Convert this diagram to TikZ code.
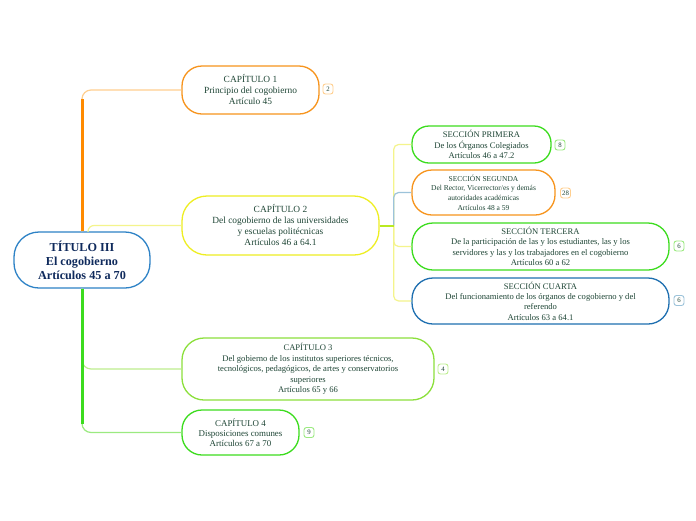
\documentclass[tikz,border=0pt]{standalone}
\usepackage{fontspec}
\setmainfont{Liberation Serif}
\usetikzlibrary{calc}
\definecolor{corange}{HTML}{F7941D}
\definecolor{ctrunk}{HTML}{FF8A00}
\definecolor{cpaleorange}{HTML}{FFCF8F}
\definecolor{cyellow}{HTML}{EEEE22}
\definecolor{cpaleyellow}{HTML}{F4F48C}
\definecolor{cgreen}{HTML}{3CDC1E}
\definecolor{cpalegreen}{HTML}{9BEA80}
\definecolor{climegreen}{HTML}{8CE03C}
\definecolor{cpalelime}{HTML}{BDEE8E}
\definecolor{cblue}{HTML}{2D82C6}
\definecolor{cdblue}{HTML}{1E6FB0}
\definecolor{cgreyblue}{HTML}{9CC3DA}
\definecolor{ctxt}{HTML}{1F4636}
\definecolor{cnavy}{HTML}{0F2A5C}
\begin{document}
\begin{tikzpicture}[x=1pt,y=-1pt,
  topic/.style={draw, line width=1.3pt, fill=white, align=center, inner sep=0pt,
    text=ctxt, rounded corners=20pt},
  badge/.style={draw, line width=0.9pt, rounded corners=2.5pt, minimum width=10pt,
    minimum height=10pt, inner sep=1.2pt, fill=white, text=ctxt,
    font=\fontsize{6.8}{7}\selectfont},
  branch/.style={line width=1.2pt, rounded corners=9pt},
  chfont/.style={font=\fontsize{9.4}{11}\selectfont},
  secfont/.style={font=\fontsize{8.6}{10.4}\selectfont}]
\useasboundingbox (0,0) rectangle (696,520);
\fill[white] (0,0) rectangle (696,520);

% nodes
\node[topic, draw=cblue, rounded corners=25pt, minimum width=136pt, minimum height=56pt,
  text=cnavy, font=\bfseries\fontsize{12.2}{14}\selectfont] (r) at (82,260)
  {TÍTULO III\\El cogobierno\\Artículos 45 a 70};
\node[topic, draw=corange, chfont, minimum width=137pt, minimum height=48pt] (c1) at (250.5,90)
  {CAPÍTULO 1\\Principio del cogobierno\\Artículo 45};
\node[topic, draw=cyellow, chfont, rounded corners=25pt, minimum width=197pt, minimum height=59pt] (c2) at (280.5,225.5)
  {CAPÍTULO 2\\Del cogobierno de las universidades\\y escuelas politécnicas\\Artículos 46 a 64.1};
\node[topic, draw=cgreen, secfont, rounded corners=17pt, minimum width=139pt, minimum height=37pt] (s1) at (481.5,144.5)
  {SECCIÓN PRIMERA\\De los Órganos Colegiados\\Artículos 46 a 47.2};
\node[topic, draw=corange, font=\fontsize{7.5}{9.6}\selectfont, rounded corners=20pt, minimum width=143pt, minimum height=45pt] (s2) at (483.5,192.5)
  {SECCIÓN SEGUNDA\\Del Rector, Vicerrector/es y demás\\autoridades académicas\\Artículos 48 a 59};
\node[topic, draw=cgreen, secfont, rounded corners=21pt, minimum width=257pt, minimum height=47pt] (s3) at (540.5,246.5)
  {SECCIÓN TERCERA\\De la participación de las y los estudiantes, las y los\\servidores y las y los trabajadores en el cogobierno\\Artículos 60 a 62};
\node[topic, draw=cdblue, secfont, rounded corners=21pt, minimum width=257pt, minimum height=46pt] (s4) at (540.5,301)
  {SECCIÓN CUARTA\\Del funcionamiento de los órganos de cogobierno y del\\referendo\\Artículos 63 a 64.1};
\node[topic, draw=climegreen, secfont, rounded corners=22pt, minimum width=252pt, minimum height=62pt] (c3) at (308,369)
  {CAPÍTULO 3\\Del gobierno de los institutos superiores técnicos,\\tecnológicos, pedagógicos, de artes y conservatorios\\superiores\\Artículos 65 y 66};
\node[topic, draw=cgreen, font=\fontsize{8.9}{9.9}\selectfont, minimum width=117pt, minimum height=45pt] (c4) at (240.5,432.5)
  {CAPÍTULO 4\\Disposiciones comunes\\Artículos 67 a 70};

% badges
\node[badge, draw=cpaleorange] (b1) at (328,89) {2};
\node[badge, draw=cpalegreen] (b2) at (560,145) {8};
\node[badge, draw=cpaleorange] (b3) at (565.5,193) {28};
\node[badge, draw=cpalegreen] (b4) at (679,246) {6};
\node[badge, draw=cgreyblue] (b5) at (679,300.5) {6};
\node[badge, draw=cpalelime] (b6) at (443,369) {4};
\node[badge, draw=cpalegreen] (b7) at (309,432.5) {9};

% connectors from root
\coordinate (k1) at (r.north |- c1.west);
\draw[branch, cpaleorange] (r.north) |- (c1.west);
\draw[ctrunk, line width=3pt] (r.north) -- ($(k1)+(0,9)$);
\draw[branch, cpaleyellow, rounded corners=6pt] ($(r.north)+(6,0.5)$) |- (c2.west);
\coordinate (k4) at (r.south |- c4.west);
\draw[branch, cpalelime] (r.south) |- (c3.west);
\draw[branch, cpalegreen] (r.south) |- (c4.west);
\draw[cgreen, line width=3pt] (r.south) -- ($(k4)+(0,-9)$);

% connectors from chapter 2
\coordinate (j) at ($(c2.east)+(14,0)$);
\draw[branch, cpaleyellow, rounded corners=5pt] (j) |- (s1.west);
\draw[branch, cpaleyellow, rounded corners=5pt] (j) |- (s3.west);
\draw[branch, cpaleyellow, rounded corners=5pt] (j) |- (s4.west);
\draw[branch, cgreyblue, rounded corners=5pt] (j) |- (s2.west);
\draw[line width=2pt, color=cyellow!70!cgreen] (c2.east) -- (j);
\end{tikzpicture}
\end{document}
